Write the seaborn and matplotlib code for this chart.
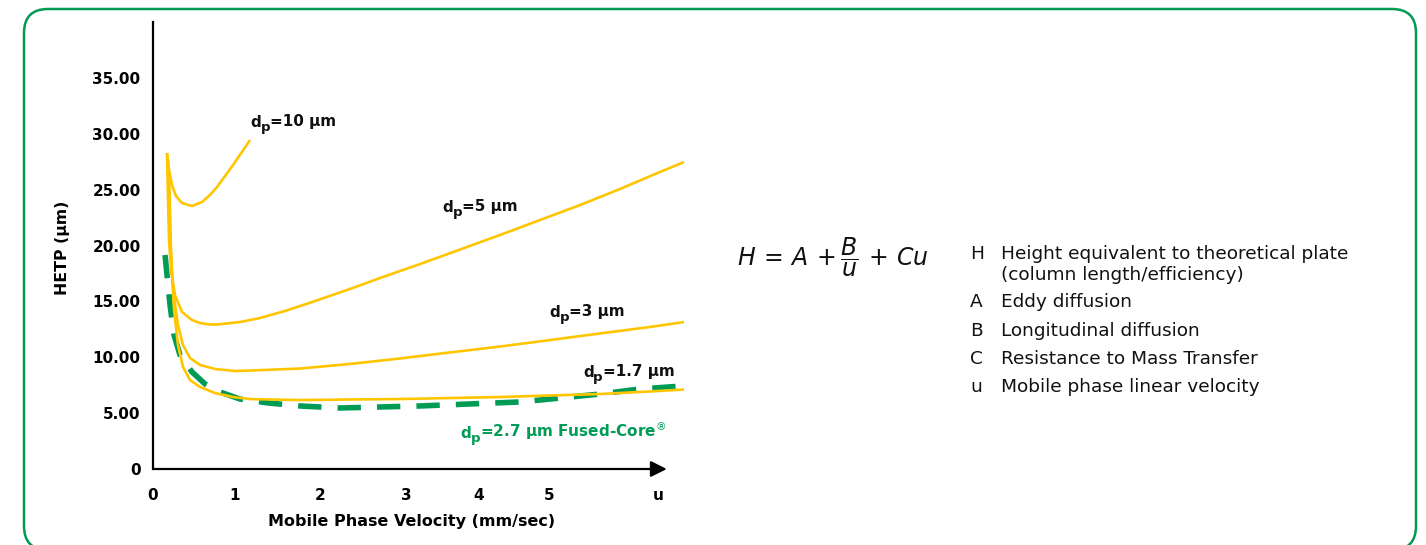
import matplotlib
matplotlib.use("Agg")
import matplotlib.pyplot as plt
from matplotlib.patches import FancyBboxPatch
from matplotlib.transforms import IdentityTransform
import seaborn as sns
import pandas as pd

# ---------------- data ----------------
x_dp10 = [0.169, 0.193, 0.229, 0.277, 0.349, 0.470, 0.590, 0.687, 0.771, 0.868,
          0.964, 1.169]
y_dp10 = [28.28, 26.76, 25.41, 24.43, 23.80, 23.53, 23.89, 24.52, 25.23, 26.22,
          27.20, 29.44]

x_dp5 = [0.169, 0.181, 0.193, 0.217, 0.265, 0.349, 0.470, 0.566, 0.687, 0.771,
         1.048, 1.289, 1.590, 1.952, 2.373, 2.735, 3.217, 3.699, 4.181, 4.663,
         5.145, 5.627, 6.108, 6.398]
y_dp5 = [28.28, 24.07, 20.49, 17.81, 15.57, 14.05, 13.33, 13.06, 12.93, 12.93,
         13.15, 13.51, 14.14, 15.03, 16.11, 17.09, 18.34, 19.64, 20.94, 22.28,
         23.62, 25.06, 26.58, 27.47]

x_dp3 = [0.181, 0.205, 0.241, 0.301, 0.361, 0.446, 0.566, 0.747, 0.988, 1.169,
         1.771, 2.373, 2.976, 3.578, 4.181, 4.783, 5.386, 5.988, 6.398]
y_dp3 = [27.65, 20.49, 16.02, 12.89, 11.10, 9.93, 9.31, 8.95, 8.77, 8.81,
         8.99, 9.40, 9.89, 10.43, 10.96, 11.54, 12.13, 12.71, 13.15]

x_dp17 = [0.193, 0.217, 0.253, 0.301, 0.361, 0.446, 0.566, 0.747, 0.964, 1.169,
          1.410, 1.771, 2.373, 2.976, 3.578, 4.181, 4.783, 5.386, 5.988, 6.398]
y_dp17 = [26.76, 19.60, 14.23, 11.10, 9.13, 7.96, 7.34, 6.80, 6.44, 6.26,
          6.22, 6.17, 6.22, 6.26, 6.35, 6.44, 6.58, 6.71, 6.94, 7.11]

x_fc27 = [0.145, 0.169, 0.205, 0.253, 0.325, 0.470, 0.627, 0.807, 1.048, 1.386,
          1.771, 2.253, 2.735, 3.217, 3.819, 4.422, 4.904, 5.386, 5.867, 6.386]
y_fc27 = [19.15, 17.36, 14.68, 11.99, 10.20, 8.68, 7.61, 6.89, 6.26, 5.91,
          5.64, 5.46, 5.55, 5.64, 5.82, 6.00, 6.35, 6.71, 7.16, 7.43]

xtick_pos = [0, 0.988, 2.012, 3.048, 3.928, 4.771, 6.084]
xtick_labels = ["0", "1", "2", "3", "4", "5", "u"]
ytick_vals = [0, 5, 10, 15, 20, 25, 30, 35]
ytick_labels = ["0", "5.00", "10.00", "15.00", "20.00", "25.00", "30.00", "35.00"]

# (main letter, subscript, rest) for each curve label
label_dp10 = ("d", "p", "=10 µm")
label_dp5 = ("d", "p", "=5 µm")
label_dp3 = ("d", "p", "=3 µm")
label_dp17 = ("d", "p", "=1.7 µm")
label_fc27 = ("d", "p", "=2.7 µm Fused-Core$^{®}$")

equation = r"$H\,=\,A\,+\dfrac{B}{u}\,+\,Cu$"
legend_keys = ["H", "", "A", "B", "C", "u"]
legend_desc = ["Height equivalent to theoretical plate",
               "(column length/efficiency)",
               "Eddy diffusion",
               "Longitudinal diffusion",
               "Resistance to Mass Transfer",
               "Mobile phase linear velocity"]

# ---------------- style ----------------
sns.set_style("white")
plt.rcParams["font.family"] = ["DejaVu Sans"]
plt.rcParams["mathtext.fontset"] = "dejavusans"
plt.rcParams["text.color"] = "black"
plt.rcParams["axes.labelcolor"] = "black"
plt.rcParams["xtick.color"] = "black"
plt.rcParams["ytick.color"] = "black"

YELLOW = "#FFC600"
GREEN = "#009B55"
INK = "#111111"

W, H = 1426, 545
fig = plt.figure(figsize=(W / 100, H / 100), dpi=100)
fig.patch.set_facecolor("white")


def fx(px):
    return px / W


def fy(py):
    return 1 - py / H


ax = fig.add_axes([fx(153), 76 / H, 531 / W, 447 / H])
ax.set_facecolor("none")

for xs, ys in [(x_dp10, y_dp10), (x_dp5, y_dp5), (x_dp3, y_dp3), (x_dp17, y_dp17)]:
    df = pd.DataFrame({"u": xs, "H": ys})
    sns.lineplot(data=df, x="u", y="H", ax=ax, color=YELLOW, lw=1.9,
                 sort=False, estimator=None, solid_capstyle="butt",
                 solid_joinstyle="round")

df = pd.DataFrame({"u": x_fc27, "H": y_fc27})
sns.lineplot(data=df, x="u", y="H", ax=ax, color=GREEN, lw=4.0,
             sort=False, estimator=None, linestyle=(0, (4.2, 2.9)),
             dash_capstyle="butt", dash_joinstyle="round", zorder=1)

ax.set_xlim(0, 531 / 83)
ax.set_ylim(0, 40)

for s in ["top", "right", "bottom"]:
    ax.spines[s].set_visible(False)
ax.spines["left"].set_color("black")
ax.spines["left"].set_linewidth(1.6)

ax.annotate("", xy=(6.19, 0), xytext=(0, 0),
            arrowprops=dict(arrowstyle="-|>", lw=1.6, color="black",
                            mutation_scale=24, shrinkA=0, shrinkB=0),
            annotation_clip=False)

ax.set_xticks(xtick_pos)
ax.set_xticklabels(xtick_labels, fontsize=11, fontweight="bold")
ax.set_yticks(ytick_vals)
ax.set_yticklabels(ytick_labels, fontsize=11, fontweight="bold")
ax.tick_params(axis="x", length=0, pad=14)
ax.tick_params(axis="y", length=0, pad=9)

ax.set_xlabel("Mobile Phase Velocity (mm/sec)", fontsize=11.5, fontweight="bold")
ax.xaxis.set_label_coords(0.486, -0.100)
ax.set_ylabel("HETP (µm)", fontsize=11.3, fontweight="bold")
ax.yaxis.set_label_coords(-0.157, 0.494)


def curve_label(x, y, parts, color, size=11):
    main, sub, rest = parts
    t1 = ax.text(x, y, main, fontsize=size, fontweight="bold", color=color,
                 ha="left", va="baseline")
    d1 = 0.236 * size
    sub_size = size * 0.88
    t2 = ax.annotate(sub, xy=(1, 0), xycoords=t1,
                     xytext=(-0.3, d1 - 3.2), textcoords="offset points",
                     fontsize=sub_size, fontweight="bold", color=color,
                     ha="left", va="baseline")
    d2 = 0.236 * sub_size
    ax.annotate(rest, xy=(1, 0), xycoords=t2,
                xytext=(-0.2, d2 + 3.2), textcoords="offset points",
                fontsize=size, fontweight="bold", color=color,
                ha="left", va="baseline")


curve_label(1.17, 30.6, label_dp10, INK)
curve_label(3.49, 23.0, label_dp5, INK)
curve_label(4.78, 13.6, label_dp3, INK)
curve_label(5.18, 8.23, label_dp17, INK)
curve_label(3.70, 2.75, label_fc27, GREEN)

# equation and legend
fig.text(fx(833), fy(257), equation, fontsize=17, ha="center", va="center",
         color=INK)
rows_y = [254, 275, 302, 331, 359, 387]
for k, d, yy in zip(legend_keys, legend_desc, rows_y):
    if k:
        fig.text(fx(970), fy(yy), k, fontsize=13.3, ha="left", va="center",
                 color=INK)
    fig.text(fx(1001), fy(yy), d, fontsize=13.3, ha="left", va="center",
             color=INK)

# rounded green frame
frame = FancyBboxPatch((24, -5), 1392, 541,
                       boxstyle="round,pad=0,rounding_size=24",
                       transform=IdentityTransform(), fill=False,
                       edgecolor=GREEN, linewidth=1.8)
fig.add_artist(frame)

fig.savefig("out.png", dpi=100)
